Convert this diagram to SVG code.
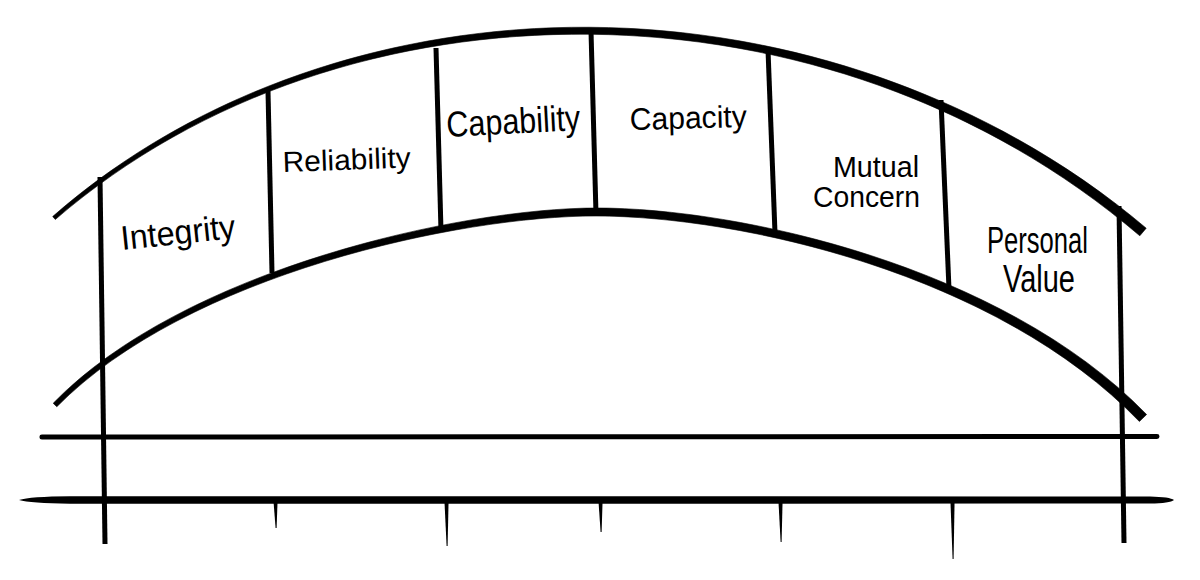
<svg xmlns="http://www.w3.org/2000/svg" width="1200" height="580" viewBox="0 0 1200 580">
  <style>
    .ln{fill:none;stroke:#000;stroke-linecap:round;stroke-linejoin:round}
    .arch{fill:#000;stroke:#000;stroke-width:0.6;stroke-linejoin:round}
    .post{fill:none;stroke:#000;stroke-width:5;stroke-linecap:butt}
    .tick{fill:#000;stroke:none}
    .lbl{font-family:"Liberation Sans","DejaVu Sans",Arial,sans-serif;fill:#000}
  </style>
  <rect width="1200" height="580" fill="#fff"/>

  <g id="outer-arch">
    <path class="arch" d="M52.7,216.5 C197.2,90 393,25.8 589.9,27.25 C786.75,28.6 989.4,95.6 1146.2,228.2 L1139.8,235.8 C983.6,102.4 786.75,36.4 589.9,34.25 C393,32.2 200.8,94 55.3,219.5 Z"/>
  </g>

  <g id="inner-arch">
    <path class="arch" d="M53.2,403.25 C182.7,269.8 460,208.2 596,208 C740,207.8 1003.4,266.7 1146.6,414.5 L1139.4,421.5 C996.6,273.3 740,216.2 596,216 C460,215.8 187.3,274.2 56.8,406.75 Z"/>
  </g>

  <g id="posts">
    <line class="post" x1="100" y1="177" x2="105" y2="544"/>
    <line class="post" x1="268" y1="91" x2="272" y2="273"/>
    <line class="post" x1="436" y1="48" x2="441" y2="231"/>
    <line class="post" x1="591" y1="31" x2="596" y2="214"/>
    <line class="post" x1="768" y1="50" x2="775" y2="233"/>
    <line class="post" x1="941" y1="100" x2="949" y2="289"/>
    <line class="post" x1="1119" y1="206" x2="1124" y2="543"/>
  </g>

  <g id="deck">
    <line class="ln" stroke-width="5" x1="42" y1="437" x2="1157" y2="436.5"/>
    <path fill="#000" d="M19,500 Q30,496.6 70,496.3 L1150,496.4 Q1170,496.8 1174,500 Q1170,503.4 1150,503.6 L70,503.7 Q30,503.4 19,500 Z"/>
    <path class="tick" d="M273.4,500 L277.6,500 L276.6,528 L275.6,528 Z"/>
    <path class="tick" d="M444.4,500 L448.6,500 L447.6,546 L446.6,546 Z"/>
    <path class="tick" d="M598.4,500 L602.6,500 L601.6,532 L600.6,532 Z"/>
    <path class="tick" d="M778.4,500 L782.6,500 L781.6,542 L780.6,542 Z"/>
    <path class="tick" d="M950.4,500 L954.6,500 L953.6,559 L952.6,559 Z"/>
  </g>

  <g id="label-integrity">
    <text class="lbl" x="122" y="250" font-size="34" textLength="115" lengthAdjust="spacingAndGlyphs" transform="rotate(-6 122 250)">Integrity</text>
  </g>
  <g id="label-reliability">
    <text class="lbl" x="283" y="172" font-size="29" textLength="128" lengthAdjust="spacingAndGlyphs" transform="rotate(-2 283 172)">Reliability</text>
  </g>
  <g id="label-capability">
    <text class="lbl" x="447" y="137" font-size="36" textLength="134" lengthAdjust="spacingAndGlyphs" transform="rotate(-3 447 137)">Capability</text>
  </g>
  <g id="label-capacity">
    <text class="lbl" x="630" y="130" font-size="31" textLength="117" lengthAdjust="spacingAndGlyphs" transform="rotate(-1.5 630 130)">Capacity</text>
  </g>
  <g id="label-mutual-concern">
    <text class="lbl" x="833" y="177" font-size="30" textLength="86" lengthAdjust="spacingAndGlyphs">Mutual</text>
    <text class="lbl" x="813" y="207" font-size="30" textLength="107" lengthAdjust="spacingAndGlyphs">Concern</text>
  </g>
  <g id="label-personal-value">
    <text class="lbl" x="987" y="253" font-size="36" textLength="101" lengthAdjust="spacingAndGlyphs">Personal</text>
    <text class="lbl" x="1003" y="292" font-size="38" textLength="72" lengthAdjust="spacingAndGlyphs">Value</text>
  </g>
</svg>
